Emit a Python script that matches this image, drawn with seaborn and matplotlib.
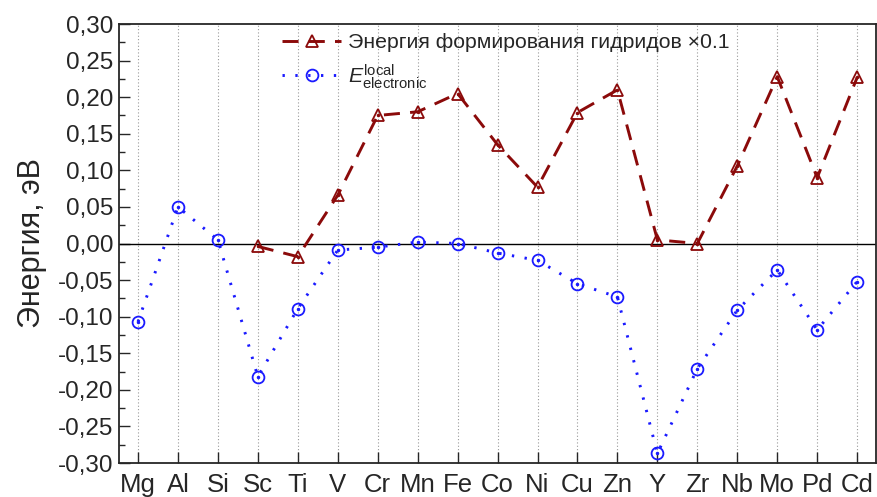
import numpy as np
import pandas as pd
import matplotlib
matplotlib.use("Agg")
import matplotlib.pyplot as plt
import seaborn as sns
from matplotlib.ticker import FuncFormatter, MultipleLocator
from matplotlib.lines import Line2D

elements = ["Mg", "Al", "Si", "Sc", "Ti", "V", "Cr", "Mn", "Fe", "Co",
            "Ni", "Cu", "Zn", "Y", "Zr", "Nb", "Mo", "Pd", "Cd"]
e_local = [-0.107, 0.050, 0.005, -0.182, -0.089, -0.009, -0.005, 0.002, 0.000,
           -0.013, -0.023, -0.055, -0.073, -0.287, -0.171, -0.091, -0.036, -0.118, -0.052]
hydride = [np.nan, np.nan, np.nan, -0.004, -0.018, 0.066, 0.175, 0.180, 0.205,
           0.135, 0.077, 0.179, 0.210, 0.005, 0.000, 0.106, 0.228, 0.090, 0.227]
legend_labels = ["Энергия формирования гидридов \u00d70.1",
                 r"$E_{\mathrm{electronic}}^{\mathrm{local}}$"]
y_label = "Энергия, эВ"

sns.set_style("ticks")
plt.rcParams["font.family"] = ["Liberation Sans", "DejaVu Sans"]
plt.rcParams["mathtext.fontset"] = "custom"
plt.rcParams["mathtext.rm"] = "Liberation Sans"
plt.rcParams["mathtext.it"] = "Liberation Sans:italic"

red = "#8b0a0a"
blue = "#1a1aff"
red_ls = (0, (5.5, 3.5))
blue_ls = (0, (0.8, 3.6))

df = pd.DataFrame({"x": np.arange(len(elements)), "el": elements,
                   "loc": e_local, "hyd": hydride})

fig = plt.figure(figsize=(8.77, 4.97), dpi=100)
ax = fig.add_axes([0.1357, 0.0684, 0.8633, 0.8833])

for xi in df["x"]:
    ax.axvline(xi, color="#999999", lw=0.8, ls=(0, (1, 2)), zorder=0)
ax.axhline(0, color="black", lw=1.0, zorder=1)

sns.lineplot(data=df.dropna(subset=["hyd"]), x="x", y="hyd", ax=ax, color=red,
             lw=2.1, linestyle=red_ls, marker="^", markersize=9,
             markerfacecolor="none", markeredgecolor=red, markeredgewidth=1.3,
             zorder=3)
sns.lineplot(data=df, x="x", y="loc", ax=ax, color=blue, lw=2.1,
             linestyle=blue_ls, marker="o", markersize=8.5,
             markerfacecolor="none", markeredgecolor=blue, markeredgewidth=1.3,
             zorder=3)
# centre dots of the markers
ax.plot(df["x"], df["hyd"], ls="none", marker="o", ms=1.5, color=red, zorder=4)
ax.plot(df["x"], df["loc"], ls="none", marker="o", ms=1.5, color=blue, zorder=4)

ax.set_xlim(-0.475, 18.475)
ax.set_ylim(-0.30, 0.30)
ax.set_xticks(df["x"])
ax.set_xticklabels(elements)
ax.yaxis.set_major_locator(MultipleLocator(0.05))
ax.yaxis.set_minor_locator(MultipleLocator(0.025))
ax.yaxis.set_major_formatter(FuncFormatter(lambda v, p: f"{v:.2f}".replace(".", ",").replace("-0,00", "0,00")))
ax.tick_params(axis="both", which="major", direction="in", length=8, width=1,
               labelsize=17.5, pad=4)
ax.tick_params(axis="y", which="minor", direction="in", length=4, width=1)
ax.tick_params(axis="x", pad=7, labelsize=18.5)
ax.set_xlabel("")
ax.set_ylabel(y_label, fontsize=22, labelpad=8)
for s in ax.spines.values():
    s.set_linewidth(1.3)

h1 = Line2D([], [], color=red, lw=2.1, ls=red_ls, marker="^", ms=9,
            mfc="none", mec=red, mew=1.3)
h2 = Line2D([], [], color=blue, lw=2.1, ls=blue_ls, marker="o", ms=8.5,
            mfc="none", mec=blue, mew=1.3)
ax.legend([h1, h2], legend_labels, loc="upper left", bbox_to_anchor=(0.19, 1.022),
          frameon=False, fontsize=15.3, handlelength=2.8, handletextpad=0.3,
          labelspacing=0.45)

fig.savefig("out.png", dpi=100)
